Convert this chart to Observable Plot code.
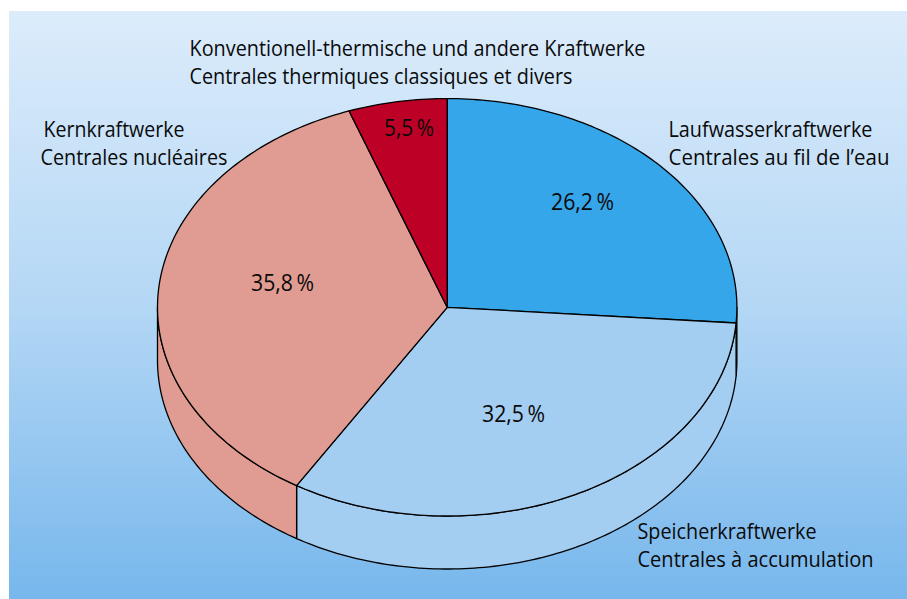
<!DOCTYPE html>
<html>
<head>
<meta charset="utf-8">
<script src="https://cdn.jsdelivr.net/npm/d3@7"></script>
<script src="https://cdn.jsdelivr.net/npm/@observablehq/plot@0.6"></script>
<style>html,body{margin:0;padding:0;background:#fff;overflow:hidden}svg{display:block}</style>
</head>
<body>
<div id="chart"></div>
<script>
// Shares, clockwise from 12 o'clock
const categories = ["Laufwasserkraftwerke", "Speicherkraftwerke", "Kernkraftwerke", "Konventionell-thermische und andere Kraftwerke"];
const shares = [26.2, 32.5, 35.8, 5.5];
const sliceColors = ["#36a6ea", "#a3cdf1", "#e09c92", "#bd0025"];

// Text annotations (page coordinates)
const nameLabels = [
  {text: "Konventionell-thermische und andere Kraftwerke", x: 189, y: 55},
  {text: "Centrales thermiques classiques et divers", x: 189, y: 83},
  {text: "Kernkraftwerke", x: 43, y: 136},
  {text: "Centrales nucléaires", x: 40, y: 164},
  {text: "Laufwasserkraftwerke", x: 668, y: 136},
  {text: "Centrales au fil de l’eau", x: 668, y: 164},
  {text: "Speicherkraftwerke", x: 637, y: 538},
  {text: "Centrales à accumulation", x: 637, y: 566}
];
const nameWidths = [456, 383, 141, 187, 204, 221, 179, 236];
const valuePositions = [{x: 582, y: 209}, {x: 513, y: 421}, {x: 282, y: 290}, {x: 408.5, y: 135}];
const valueWidths = [63, 63, 63, 50];

// Pie geometry
const W = 907, H = 599;
const cx = 446.7, cy = 306.8, rx = 289.7, ry = 208.7, depth = 53;
const FONT = "'Open Sans', sans-serif";
const point = (deg, dz = 0) => {
  const t = deg * Math.PI / 180;
  return {x: cx + rx * Math.sin(t), y: cy - ry * Math.cos(t) + dz};
};
const arc = (a, b, dz = 0) => {
  const n = Math.max(2, Math.ceil(Math.abs(b - a)));
  return d3.range(n + 1).map(i => point(a + (b - a) * i / n, dz));
};
let acc = 0;
const slices = shares.map((v, i) => {
  const start = acc * 3.6; acc += v; const end = acc * 3.6;
  return {start, end, color: sliceColors[i], value: v, name: categories[i]};
});

const lineOpts = c => ({x: "x", y: "y", fill: c, stroke: "#000", strokeWidth: 1.3, curve: "linear-closed", strokeLinejoin: "round"});

const gradient = () => {
  const defs = d3.create("svg:defs");
  const g = defs.append("linearGradient").attr("id", "panelGradient").attr("x1", 0).attr("x2", 0).attr("y1", 0).attr("y2", 1);
  g.append("stop").attr("offset", "0%").attr("stop-color", "#dcecfb");
  g.append("stop").attr("offset", "50%").attr("stop-color", "#b4d7f5");
  g.append("stop").attr("offset", "100%").attr("stop-color", "#77b7ec");
  return defs.node();
};

const walls = slices.filter(s => s.end > 90 && s.start < 270).map(s => {
  const a = Math.max(s.start, 90), b = Math.min(s.end, 270);
  return Plot.line([...arc(a, b), ...arc(b, a, depth)], lineOpts(s.color));
});
const tops = slices.map(s => Plot.line([{x: cx, y: cy}, ...arc(s.start, s.end)], lineOpts(s.color)));

const plot = Plot.plot({
  width: W, height: H, margin: 0,
  x: {domain: [0, W], range: [0, W], axis: null},
  y: {domain: [0, H], range: [0, H], axis: null},
  style: {background: "#fff", fontFamily: FONT},
  marks: [
    gradient,
    Plot.rect([{x1: 9, x2: W, y1: 11, y2: H}], {x1: "x1", x2: "x2", y1: "y1", y2: "y2", fill: "url(#panelGradient)"}),
    ...walls,
    ...tops,
    Plot.text(nameLabels, {x: "x", y: "y", text: "text", textAnchor: "start", lineAnchor: "bottom", fontSize: 22, fontFamily: FONT, fill: "#0a0a0a", className: "name-label"}),
    Plot.text(slices.map((s, i) => ({...valuePositions[i], t: s.value.toFixed(1).replace(".", ",") + "\u2009%"})), {x: "x", y: "y", text: "t", textAnchor: "middle", lineAnchor: "bottom", fontSize: 23, fontFamily: FONT, fill: "#0a0a0a", className: "value-label"})
  ]
});
document.getElementById("chart").append(plot);
// The reference face is condensed: fit each string to its measured width.
const fit = (sel, widths) => d3.select(plot).selectAll(sel).each(function(_, i) {
  this.setAttribute("textLength", widths[i]);
  this.setAttribute("lengthAdjust", "spacingAndGlyphs");
});
fit(".name-label text", nameWidths);
fit(".value-label text", valueWidths);
</script>
</body>
</html>
